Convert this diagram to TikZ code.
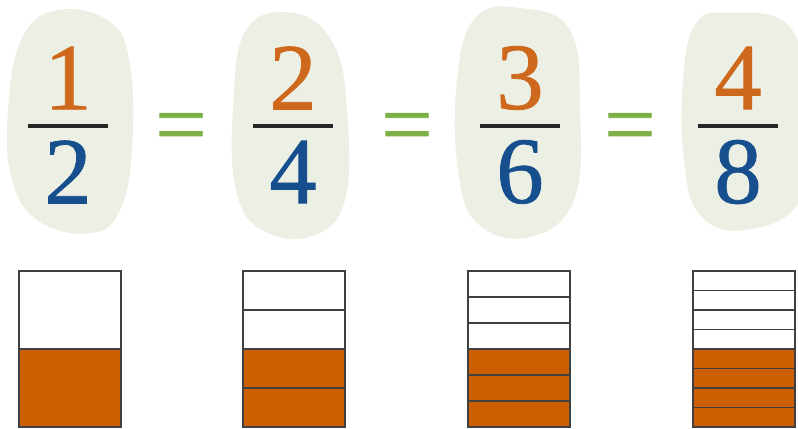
\documentclass[tikz,border=0pt]{standalone}
\usepackage{fontspec}
\setmainfont{Liberation Serif}
\newfontfamily\digitfont[FakeBold=0.8]{Liberation Serif}
\usepackage{xcolor}
\usepackage{tikz}
\usetikzlibrary{positioning,calc}

\definecolor{numorange}{RGB}{206,104,28}
\definecolor{denblue}{RGB}{22,78,142}
\definecolor{eqgreen}{RGB}{126,176,72}
\definecolor{blobgray}{RGB}{236,240,228}
\definecolor{barorange}{RGB}{204,96,0}

\begin{document}
\begin{tikzpicture}[
			x=0.02cm, y=-0.02cm,
			blob/.style={fill=blobgray, draw=none},
			digit/.style={inner sep=0pt, font=\digitfont\fontsize{54}{60}\selectfont},
			num/.style={digit, text=numorange},
			den/.style={digit, text=denblue},
			eqsign/.style={inner sep=0pt, text=eqgreen, font=\digitfont\fontsize{52}{60}\selectfont},
			fracbar/.style={line width=1.9pt, black!85},
			cell/.style={draw=black!75, line width=1.1pt}
		]
		\clip (0,0) rectangle (798,429);

		% pebbles behind the fractions
		\fill[blob] plot[smooth cycle, tension=0.7] coordinates {(58,10) (110,22) (130,65) (132,150) (120,210) (92,233) (40,222) (12,180) (8,110) (22,38)};
		\fill[blob] plot[smooth cycle, tension=0.7] coordinates {(293,13) (333,43) (347,110) (345,200) (312,236) (262,230) (236,190) (233,110) (246,30)};
		\fill[blob] plot[smooth cycle, tension=0.7] coordinates {(520,8) (570,30) (580,110) (574,200) (530,237) (478,224) (458,170) (457,80) (475,18)};
		\fill[blob] plot[smooth cycle, tension=0.7] coordinates {(725,13) (790,27) (806,110) (800,200) (745,230) (700,215) (684,160) (683,80) (695,25)};

		% fractions
		\foreach \i/\c/\p/\q in {1/68/1/2, 2/293/2/4, 3/520/3/6, 4/738/4/8} {
				\node[num] (n\i) at (\c,78) {\p};
				\node[den] (d\i) at (\c,172) {\q};
				\draw[fracbar] ($(\c,126)+(-40,0)$) -- ($(\c,126)+(40,0)$);
			}

		% equals signs
		\foreach \i/\c in {1/181, 2/407, 3/630} {
				\node[eqsign] (e\i) at (\c,134) {=};
			}

		% bars
		\foreach \x/\n in {19/2, 243/4, 468/6, 693/8} {
				\fill[barorange] (\x,349) rectangle ++(102,78);
				\pgfmathtruncatemacro{\m}{\n-1}
				\foreach \k in {1,...,\m} {
						\draw[cell] (\x,{271+\k*156/\n}) -- ++(102,0);
					}
				\draw[cell] (\x,271) rectangle ++(102,156);
			}
	\end{tikzpicture}
\end{document}
